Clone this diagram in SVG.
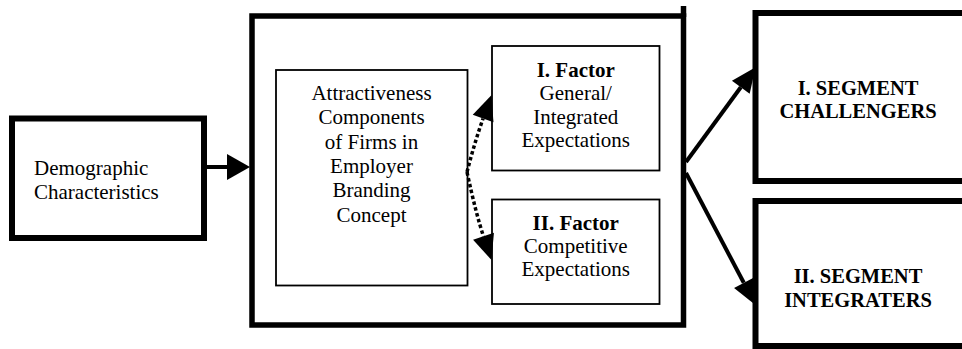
<svg xmlns="http://www.w3.org/2000/svg" width="962" height="349" viewBox="0 0 962 349">
<style>
  text { font-family: "Liberation Serif", "Times New Roman", serif; fill: #000; }
  .t { font-size: 21px; }
  .c { text-anchor: middle; }
  .b { font-weight: bold; }
  .thick { fill: #fff; stroke: #000; stroke-width: 6; }
  .main { fill: #fff; stroke: #000; stroke-width: 5.5; }
  .thin { fill: #fff; stroke: #000; stroke-width: 1.8; }
  .conn { fill: none; stroke: #000; stroke-width: 4; }
  .dot { fill: none; stroke: #000; stroke-width: 3.5; stroke-dasharray: 3.5 2.5; }
</style>
<defs>
  <marker id="ah" markerUnits="userSpaceOnUse" markerWidth="25" markerHeight="22" refX="0" refY="11" orient="auto" overflow="visible">
    <path d="M0,0 L25,11 L0,22 Z" fill="#000"/>
  </marker>
  <marker id="ahBig" markerUnits="userSpaceOnUse" markerWidth="23" markerHeight="26" refX="0" refY="13" orient="auto" overflow="visible">
    <path d="M0,0 L23,13 L0,26 Z" fill="#000"/>
  </marker>
</defs>

<g id="demographic">
  <rect class="thick" x="12" y="118.5" width="192" height="119.5"/>
  <text class="t" x="34" y="175">Demographic</text>
  <text class="t" x="34" y="199">Characteristics</text>
</g>

<g id="main-box">
  <rect class="main" x="252" y="16" width="431.5" height="309"/>
  <line x1="683.5" y1="6" x2="683.5" y2="17" stroke="#000" stroke-width="5.5"/>
</g>

<g id="attractiveness">
  <rect class="thin" x="276" y="70" width="191.5" height="215.5"/>
  <text class="t c" x="371.5" y="100">Attractiveness</text>
  <text class="t c" x="371.5" y="124.3">Components</text>
  <text class="t c" x="371.5" y="148.6">of Firms in</text>
  <text class="t c" x="371.5" y="172.9">Employer</text>
  <text class="t c" x="371.5" y="197.2">Branding</text>
  <text class="t c" x="371.5" y="221.5">Concept</text>
</g>

<g id="factor1">
  <rect class="thin" x="492" y="46" width="167.5" height="124.5"/>
  <text class="t c b" x="575.75" y="77">I. Factor</text>
  <text class="t c" x="575.75" y="100.3">General/</text>
  <text class="t c" x="575.75" y="123.6">Integrated</text>
  <text class="t c" x="575.75" y="147">Expectations</text>
</g>

<g id="factor2">
  <rect class="thin" x="492" y="199.5" width="167.5" height="104.5"/>
  <text class="t c b" x="575.75" y="230">II. Factor</text>
  <text class="t c" x="575.75" y="253">Competitive</text>
  <text class="t c" x="575.75" y="276">Expectations</text>
</g>

<g id="segment1">
  <rect class="thick" x="755.5" y="13" width="230" height="168"/>
  <text class="c b" style="font-size:20.5px" x="858" y="95">I. SEGMENT</text>
  <text class="c b" style="font-size:20.5px" x="858" y="118.3">CHALLENGERS</text>
</g>

<g id="segment2">
  <rect class="thick" x="755.5" y="201" width="230" height="145"/>
  <text class="c b" style="font-size:20.5px" x="858" y="283">II. SEGMENT</text>
  <text class="c b" style="font-size:20.5px" x="858" y="306.5">INTEGRATERS</text>
</g>

<g id="connectors">
  <line class="conn" x1="207" y1="167" x2="227" y2="167" marker-end="url(#ahBig)"/>
  <path class="dot" d="M467,172 Q475,141 483.1,118.5" marker-end="url(#ah)"/>
  <path class="dot" d="M467,172 Q476,214 483.5,236.3" marker-end="url(#ah)"/>
  <line class="conn" x1="686" y1="162" x2="740.8" y2="87.3" marker-end="url(#ah)"/>
  <line class="conn" x1="686" y1="173" x2="743.8" y2="282.8" marker-end="url(#ah)"/>
</g>
</svg>
